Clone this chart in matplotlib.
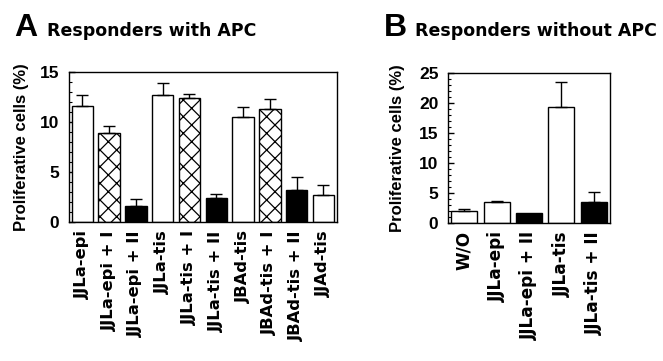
import matplotlib
matplotlib.use("Agg")
import matplotlib.pyplot as plt
from matplotlib.ticker import MultipleLocator
import numpy as np

plt.rcParams['font.family'] = ['Liberation Sans', 'DejaVu Sans']
plt.rcParams['hatch.linewidth'] = 0.9

# Panel A data
cats_a = ["JJLa-epi", "JJLa-epi + I", "JJLa-epi + II", "JJLa-tis", "JJLa-tis + I",
          "JJLa-tis + II", "JBAd-tis", "JBAd-tis + I", "JBAd-tis + II", "JJAd-tis"]
vals_a = [11.6, 8.9, 1.6, 12.7, 12.45, 2.4, 10.55, 11.3, 3.2, 2.7]
err_a = [1.1, 0.75, 0.7, 1.2, 0.4, 0.4, 0.95, 1.05, 1.3, 1.0]
kind_a = ["open", "hatch", "solid", "open", "hatch", "solid", "open", "hatch", "solid", "open"]

# Panel B data
cats_b = ["W/O", "JJLa-epi", "JJLa-epi + II", "JJLa-tis", "JJLa-tis + II"]
vals_b = [1.9, 3.4, 1.55, 19.3, 3.4]
err_b = [0.45, 0.2, 0.0, 4.2, 1.7]
kind_b = ["open", "open", "solid", "open", "solid"]

fig = plt.figure(figsize=(6.63, 3.61), dpi=100)
axA = fig.add_axes([0.104, 0.385, 0.404, 0.415])
axB = fig.add_axes([0.676, 0.383, 0.244, 0.415])


def draw(ax, cats, vals, errs, kinds, ymax, major, xfs, lpad):
    x = np.arange(len(cats))
    for xi, v, e, k in zip(x, vals, errs, kinds):
        if k == "solid":
            fc, h = "black", None
        elif k == "hatch":
            fc, h = "white", "xx"
        else:
            fc, h = "white", None
        ax.bar(xi, v, width=0.8, facecolor=fc, edgecolor="black", hatch=h,
               linewidth=1.0, zorder=2)
        if e > 0:
            ax.errorbar(xi, v, yerr=[[0], [e]], fmt="none", ecolor="black",
                        elinewidth=1.0, capsize=4.5, capthick=1.0, zorder=3)
    ax.set_xlim(-0.5, len(cats) - 0.5)
    ax.set_ylim(0, ymax)
    ax.yaxis.set_major_locator(MultipleLocator(major))
    ax.yaxis.set_minor_locator(MultipleLocator(1))
    ax.tick_params(axis="y", which="major", direction="in", length=4, width=1,
                   labelsize=12.5, pad=7)
    ax.tick_params(axis="y", which="minor", direction="in", length=2, width=0.8)
    ax.set_xticks(x)
    ax.set_xticklabels(cats, rotation=90, fontsize=xfs, fontweight="bold",
                       family=["DejaVu Sans"])
    ax.tick_params(axis="x", length=0, pad=6)
    for lab in ax.get_yticklabels():
        lab.set_fontweight("bold")
    for s in ax.spines.values():
        s.set_linewidth(1.0)
    ax.set_ylabel("Proliferative cells (%)", fontsize=12, fontweight="bold", labelpad=lpad)


draw(axA, cats_a, vals_a, err_a, kind_a, 15, 5, 11.8, 8)
draw(axB, cats_b, vals_b, err_b, kind_b, 25, 5, 12.2, 10)

fig.text(0.022, 0.9, "A", fontsize=23, fontweight="bold", va="baseline")
fig.text(0.071, 0.9, "Responders with APC", fontsize=12.5, fontweight="bold",
         va="baseline", family=["DejaVu Sans"])
fig.text(0.579, 0.9, "B", fontsize=23, fontweight="bold", va="baseline")
fig.text(0.626, 0.9, "Responders without APC", fontsize=12.5, fontweight="bold",
         va="baseline", family=["DejaVu Sans"])

fig.savefig("out.png", dpi=100, facecolor="white")
